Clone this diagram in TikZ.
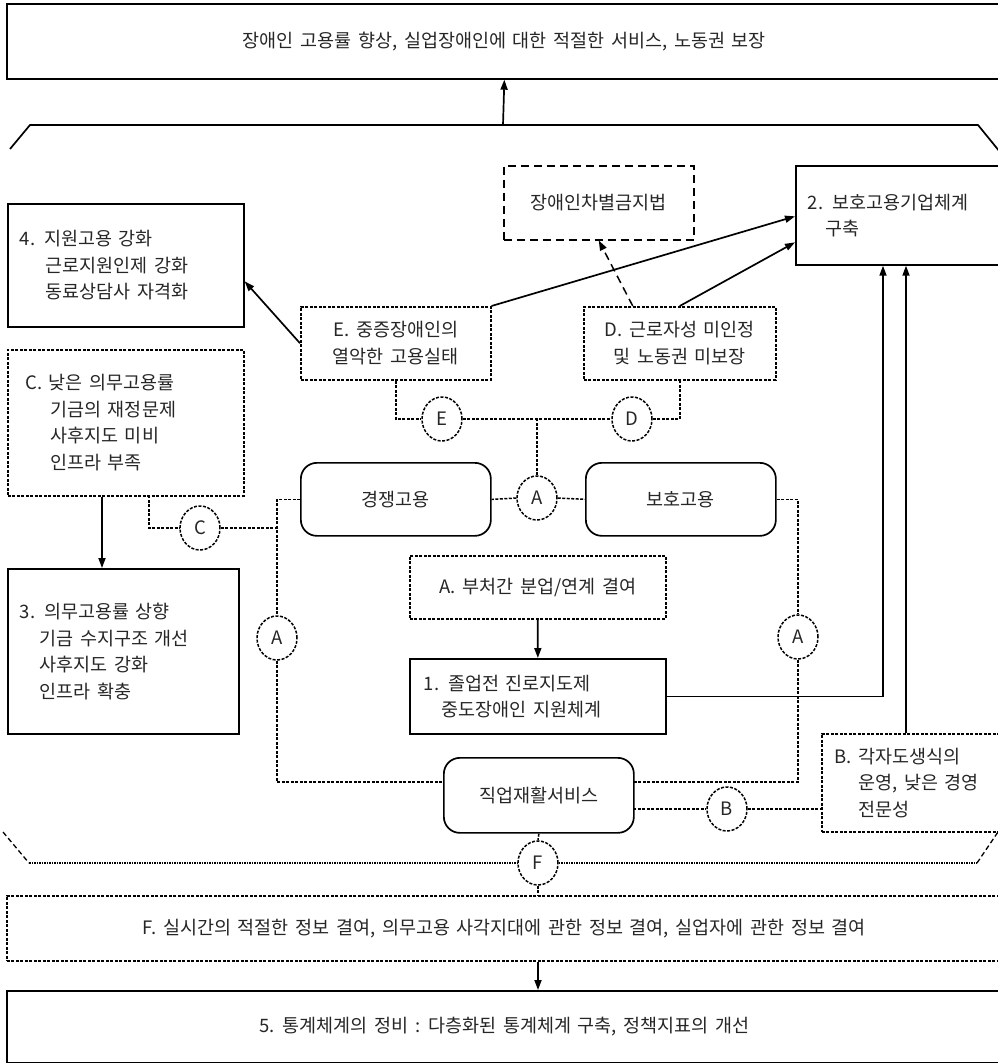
\documentclass[tikz,border=0pt]{standalone}
\usepackage{fontspec}
\setmainfont{Noto Sans CJK KR}[WordSpace=1.6]
\usetikzlibrary{arrows.meta,shapes.geometric,calc}
\begin{document}
\begin{tikzpicture}[x=1pt,y=-1pt,
  base/.style={inner ysep=0pt, font=\fontsize{18.5}{26.5}\selectfont, text=black!85},
  sbox/.style={base, draw, line width=1.7pt, anchor=north west, align=left},
  dotbox/.style={base, draw, line width=1.5pt, dash pattern=on 3pt off 1.5pt, anchor=north west, align=left},
  dashbox/.style={base, draw, line width=1.5pt, dash pattern=on 8pt off 5pt, anchor=north west, align=center},
  rbox/.style={base, draw, line width=1.7pt, rounded corners=16pt, anchor=north west, align=center},
  circ/.style={ellipse, draw, line width=1.5pt, dash pattern=on 3pt off 1.5pt, minimum width=40pt, minimum height=44pt, inner sep=0pt, font=\fontsize{18.5}{20}\selectfont, text=black!85},
  dline/.style={line width=1.5pt, dash pattern=on 3pt off 1.5pt},
  arr/.style={line width=1.7pt, -{Triangle[length=10pt,width=7pt]}},
  darr/.style={line width=1.5pt, dash pattern=on 8pt off 5pt, -{Triangle[length=10pt,width=7pt]}}
]
\useasboundingbox (0,0) rectangle (998,1063);
\clip (0,0) rectangle (998,1063);

% boxes
\node[sbox, minimum width=995pt, minimum height=75pt, align=center] (top) at (6,3) {장애인 고용률 향상, 실업장애인에 대한 적절한 서비스, 노동권 보장};
\node[sbox, inner xsep=12pt, text width=212pt, minimum height=123pt] (b4) at (7,203) {4. 지원고용 강화\\\hspace*{26pt}근로지원인제 강화\\\hspace*{26pt}동료상담사 자격화};
\node[dashbox, minimum width=190pt, minimum height=74pt] (law) at (503,165) {장애인차별금지법};
\node[sbox, inner xsep=12pt, text width=200pt, minimum height=99pt] (b2) at (795,165) {2. 보호고용기업체계\\\hspace*{18pt}구축};
\node[dotbox, align=center, minimum width=190pt, minimum height=73pt] (Ebox) at (300,306) {E. 중증장애인의\\열악한 고용실태};
\node[dotbox, align=center, minimum width=192pt, minimum height=73pt] (Dbox) at (583,306) {D. 근로자성 미인정\\및 노동권 미보장};
\node[dotbox, inner xsep=18pt, text width=200pt, minimum height=146pt] (Cbox) at (7,349) {C. 낮은 의무고용률\\\hspace*{25pt}기금의 재정문제\\\hspace*{25pt}사후지도 미비\\\hspace*{25pt}인프라 부족};
\node[rbox, minimum width=190pt, minimum height=73pt] (gyeong) at (300,462) {경쟁고용};
\node[rbox, minimum width=190pt, minimum height=73pt] (boho) at (585,462) {보호고용};
\node[dotbox, align=center, minimum width=256pt, minimum height=63pt] (Abox) at (409,555) {A. 부처간 분업/연계 결여};
\node[sbox, inner xsep=14pt, text width=228pt, minimum height=75pt] (b1) at (409,658) {1. 졸업전 진로지도제\\\hspace*{18pt}중도장애인 지원체계};
\node[sbox, inner xsep=12pt, text width=207pt, minimum height=165pt] (b3) at (7,568) {3. 의무고용률 상향\\\hspace*{20pt}기금 수지구조 개선\\\hspace*{20pt}사후지도 강화\\\hspace*{20pt}인프라 확충};
\node[dotbox, inner xsep=13pt, text width=174pt, minimum height=98pt] (Bbox) at (821,733) {B. 각자도생식의\\\hspace*{24pt}운영, 낮은 경영\\\hspace*{24pt}전문성};
\node[rbox, minimum width=190pt, minimum height=75pt] (jikup) at (443,757) {직업재활서비스};
\node[dotbox, align=center, minimum width=995pt, minimum height=65pt] (Fbox) at (6,895) {F. 실시간의 적절한 정보 결여, 의무고용 사각지대에 관한 정보 결여, 실업자에 관한 정보 결여};
\node[sbox, align=center, minimum width=995pt, minimum height=72pt] (b5) at (6,990) {5. 통계체계의 정비 : 다층화된 통계체계 구축, 정책지표의 개선};

% circles
\node[circ] (cE) at (442,419) {E};
\node[circ] (cD) at (632,419) {D};
\node[circ] (cAm) at (537,498) {A};
\node[circ] (cC) at (200,528) {C};
\node[circ] (cAl) at (277,638) {A};
\node[circ] (cAr) at (798,637) {A};
\node[circ] (cB) at (727,809) {B};
\node[circ] (cF) at (538,863) {F};

% helper coordinates
\coordinate (trapTop) at (503,125);
\coordinate (cTop) at (149,495);
\coordinate (xC) at (102,0);
\coordinate (x1) at (883,0);
\coordinate (x2) at (906,0);
\coordinate (jl) at (443,782);
\coordinate (jr) at (633,782);
\coordinate (jb) at (633,809);

% trapezoid outlines
\draw[line width=1.7pt] (10,149) -- (30,125) -- (978,125) -- (1000,152);
\draw[line width=1.3pt, dash pattern=on 5pt off 3pt] (3,832) -- (29,863);
\draw[line width=1.1pt, dash pattern=on 1.5pt off 1pt] (29,863) -- (cF.west);
\draw[line width=1.1pt, dash pattern=on 1.5pt off 1pt] (cF.east) -- (977,863);
\draw[line width=1.3pt, dash pattern=on 5pt off 3pt] (977,863) -- (1000,829);

% solid arrows
\draw[arr] (trapTop) -- (top.south);
\draw[arr] (Ebox.west) -- ($(b4.east)+(0,16)$);
\draw[arr] (Ebox.north east) -- ($(b2.west)+(0,1)$);
\draw[arr] (Dbox.north) -- ($(b2.west)+(0,27)$);
\draw[darr] ($(Dbox.north)+(-47,0)$) -- (law.south);
\draw[arr] (Cbox.south -| xC) -- (b3.north -| xC);
\draw[arr] (Abox.south) -- (b1.north);
\draw[arr] (b1.east) -| (b2.south -| x1);
\draw[arr] (Bbox.north -| x2) -- (b2.south -| x2);
\draw[arr] (Fbox.south -| cF) -- (b5.north -| cF);

% dotted connectors
\draw[dline] (Ebox.south) |- (cE.west);
\draw[dline] (cE.east) -- (cD.west);
\draw[dline] (cD.east) -| (Dbox.south);
\draw[dline] (cAm.north) -- (cAm |- cE);
\draw[dline] (gyeong.west) -| (cAl.north);
\draw[dline] (cAm.west) -- (gyeong.east);
\draw[dline] (cAm.east) -- (boho.west);
\draw[dline] (cTop) |- (cC.west);
\draw[dline] (cC.east) -- (cC.east -| cAl);
\draw[dline] (cAl.south) |- (jl);
\draw[dline] (boho.east) -| (cAr.north);
\draw[dline] (cAr.south) |- (jr);
\draw[dline] (jb) -- (cB.west);
\draw[dline] (cB.east) -- (cB.east -| Bbox.west);
\draw[dline] (jikup.south) -- (cF.north);
\draw[dline] (cF.south) -- (cF.south |- Fbox.north);
\end{tikzpicture}
\end{document}
